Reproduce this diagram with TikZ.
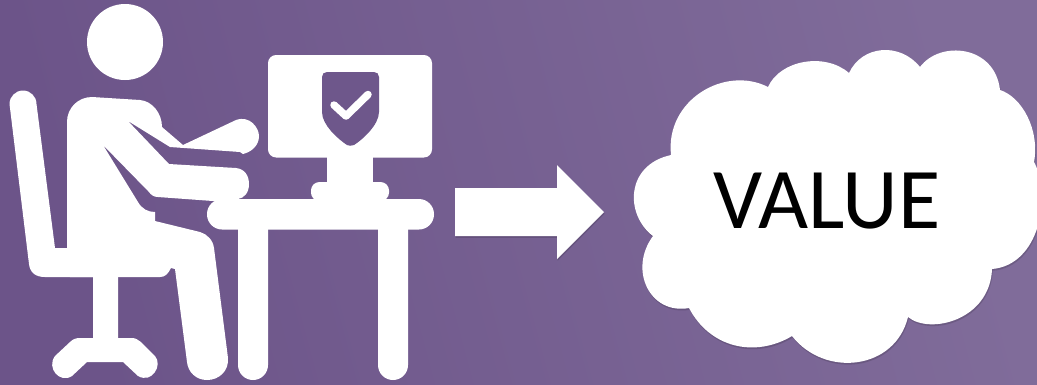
\documentclass[tikz,border=0pt]{standalone}
\usepackage{fontspec}
\setmainfont{Carlito}
\usepackage{xcolor}
\usetikzlibrary{shadows}
\definecolor{bgleft}{HTML}{6C5489}
\definecolor{bgright}{HTML}{806C9A}
\begin{document}
\begin{tikzpicture}[
  x=0.01cm, y=-0.01cm,
  icon/.style={fill=white, draw=none},
  hole/.style={fill=bgleft!88!bgright, draw=none},
  soft/.style={fill=white, draw=none, drop shadow={shadow xshift=0.2pt, shadow yshift=-0.5pt, opacity=0.14, fill=black}},
  label/.style={font=\fontsize{24.6pt}{28pt}\selectfont, text=black, inner sep=0pt},
]
\clip (0,0) rectangle (1037,384);
\shade[left color=bgleft, right color=bgright, shading angle=105] (0,0) rectangle (1037,384);

% head
\fill[icon] (125,42) circle (38);

% chair
\fill[icon] (9.5,104) arc[start angle=180, end angle=360, radius=13.5]
  -- (55,248) -- (80,248) -- (80,277)
  -- (118,277) -- (118,338) -- (132,338) .. controls (136,338) and (138,340) .. (141,342)
  -- (155,356) .. controls (163,365) and (152,384) .. (138,376)
  -- (123,362) -- (87,362) -- (72,376) .. controls (60,384) and (46,368) .. (55,356)
  -- (70,342) .. controls (73,339) and (76,338) .. (80,338)
  -- (93,338) -- (93,277) -- (45,277) .. controls (36,277) and (30,273) .. (29,264) -- cycle;

% person
\fill[icon] (67,249) -- (67,122) .. controls (67,108) and (78,97) .. (92,97)
  -- (140,100) .. controls (152,101) and (162,113) .. (162,127)
  -- (183,145) -- (236,120) .. controls (250,115) and (259,128) .. (259,136)
  .. controls (259,146) and (251,152) .. (243,154)
  -- (240,152) -- (170,147) -- (128,121) -- (169,164) -- (236,168)
  .. controls (245,169) and (249,176) .. (249,184) .. controls (249,193) and (244,198) .. (238,199)
  -- (213,201) -- (158,197) .. controls (154,197) and (151,195) .. (149,192)
  -- (103,145) -- (138,202) .. controls (142,209) and (148,212) .. (155,212)
  -- (155,221) -- (200,232) .. controls (207,234) and (213,240) .. (214,248)
  -- (228,358) .. controls (229,371) and (219,380) .. (207,380)
  .. controls (196,380) and (188,372) .. (187,362)
  -- (175,269) -- (171,268) .. controls (168,274) and (165,277) .. (160,277)
  -- (70,277) -- cycle;

% desk
\fill[icon, rounded corners=4.3pt] (207,199) rectangle (434,229.5);
\fill[icon] (238,225) -- (268,225) -- (268,365) arc[start angle=0, end angle=180, radius=15] -- cycle;
\fill[icon] (378,225) -- (408,225) -- (408,365) arc[start angle=0, end angle=180, radius=15] -- cycle;

% monitor
\fill[icon, rounded corners=2.3pt] (268,55) rectangle (432,157.5);
\fill[icon] (327,150) rectangle (373,190);
\fill[icon, rounded corners=2.4pt] (311,182) rectangle (389,201);
\fill[hole] (322,77) .. controls (322,74) and (324,72) .. (327,72) -- (374,72)
  .. controls (377,72) and (379,74) .. (379,77) -- (379,112)
  .. controls (379,125) and (362,140) .. (354,145) .. controls (351,146) and (349,146) .. (347,145)
  .. controls (338,139) and (322,125) .. (322,112) -- cycle;
\draw[white, line width=0.075cm, line cap=round, line join=round] (334,105) -- (346,116) -- (368,94.5);

% arrow
\fill[soft] (455,188) -- (557,188) -- (557,165) -- (604,212) -- (557,259) -- (557,236) -- (455,236) -- cycle;

% cloud
\fill[soft] (671,155) .. controls (665,100) and (725,65) .. (768,87)
  .. controls (780,60) and (825,52) .. (849,73)
  .. controls (862,45) and (900,42) .. (920,67)
  .. controls (940,40) and (995,45) .. (1000,90)
  .. controls (1022,97) and (1040,130) .. (1034,162)
  .. controls (1052,195) and (1040,265) .. (992,269)
  .. controls (990,320) and (930,335) .. (908,317)
  .. controls (895,370) and (825,378) .. (792,336)
  .. controls (755,358) and (710,348) .. (689,308)
  .. controls (650,315) and (628,270) .. (653,236)
  .. controls (625,215) and (625,165) .. (671,155) -- cycle;
\node[label] (value) at (827,201.5) {VALUE};
\end{tikzpicture}
\end{document}
